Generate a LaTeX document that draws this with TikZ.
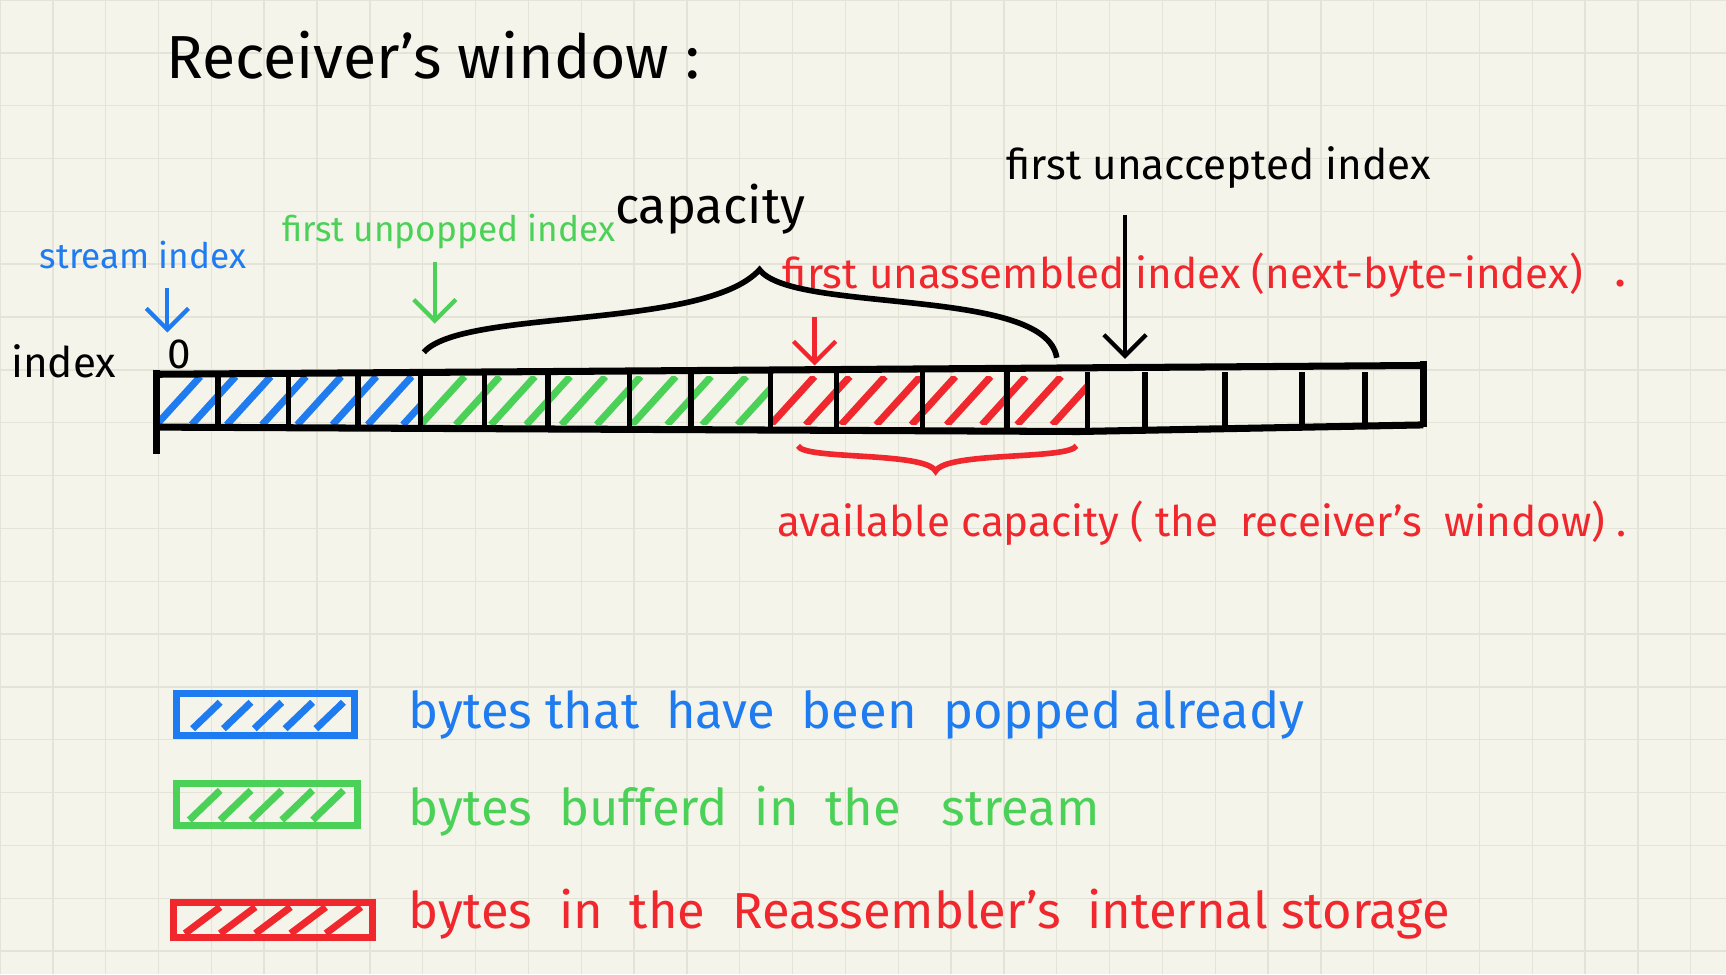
\documentclass[tikz,border=0pt]{standalone}
\usepackage{fontspec}
\setmainfont{Fira Sans}
\usetikzlibrary{arrows.meta,positioning,decorations.pathreplacing}
\definecolor{paper}{HTML}{F5F4EA}
\definecolor{gridc}{HTML}{E3E3D8}
\definecolor{hblue}{HTML}{1F7BF0}
\definecolor{hgreen}{HTML}{4CD158}
\definecolor{hred}{HTML}{F0282E}
\tikzset{
  lbl/.style={font=\large},
  pointer/.style={-{Straight Barb[length=6pt]},line width=1.2pt},
  barline/.style={line width=2pt},
  hatch/.style={line width=2pt}
}
\begin{document}
\begin{tikzpicture}[x=0.011cm,y=-0.011cm]
\useasboundingbox (0,0) rectangle (1568,885);
\fill[paper] (0,0) rectangle (1568,885);
\foreach \gx in {0,48,...,1568} \draw[gridc,line width=0.4pt] (\gx,0) -- (\gx,885);
\foreach \gy in {0,48,...,885} \draw[gridc,line width=0.4pt] (0,\gy) -- (1568,\gy);

% labels
\node (title) at (140,50) [anchor=west,font=\LARGE] {Receiver's window :};
\node (streamidx) at (25,232) [anchor=west,font=\normalsize,text=hblue] {stream index};
\node (indexlbl) at (58,328) [lbl] {index};
\node (zero) at (163,322) [lbl] {0};
\node (unpopped) at (245,210) [anchor=west,font=\normalsize,text=hgreen] {first unpopped index};
\node (cap) at (645,190) [font=\Large] {capacity};
\node (unassembled) at (700,250) [anchor=west,font=\large,text=hred] {first unassembled index (next-byte-index)};
\node (dot) at (1472,258) [font=\Large,text=hred] {.};
\node (unaccepted) at (1107,152) [lbl] {first unaccepted index};
\node (avail) at (695,475) [anchor=west,font=\large,text=hred] {available capacity ( the \ receiver's \ window) .};

% pointer targets
\coordinate (streamtip) at (152,302);
\coordinate (poptip) at (395,294);
\coordinate (asmtip) at (740,332);
\coordinate (acctip) at (1022,326);
\draw[pointer,hblue] (152,262) -- (streamtip);
\draw[pointer,hgreen] (395,238) -- (poptip);
\draw[pointer,hred] (740,288) -- (asmtip);
\draw[pointer] (1022,195) -- (acctip);

% hatching
\foreach \lo/\hi/\col in {142/382/hblue,382/700/hgreen,700/988/hred}{
  \begin{scope}
    \clip (\lo,342) rectangle (\hi,386);
    \foreach \hx in {\lo,...,\hi}{
      \pgfmathparse{mod(\hx-\lo,32)==0}
      \ifnum\pgfmathresult=1 \draw[hatch,\col] (\hx,386) -- (\hx+40,342);\fi
    }
  \end{scope}
}
% bar
\draw[barline] (142,340) -- (1293,332);
\draw[barline] (142,388) -- (980,392) -- (1293,386);
\draw[barline] (142,336) -- (142,412);
\draw[barline] (1293,328) -- (1293,388);
\foreach \cx in {198,262,325,382,440,498,572,628,700,760,838,915,988,1040,1113,1183,1240}
  \draw[line width=1.6pt] (\cx,338) -- (\cx,390);

% braces
\draw[line width=1.6pt] (385,320) .. controls (420,280) and (640,300) .. (690,245)
  .. controls (720,285) and (950,260) .. (960,325);
\draw[hred,line width=1.6pt] (725,405) .. controls (730,418) and (840,410) .. (850,428)
  .. controls (860,410) and (970,418) .. (978,405);

% legend
\draw[hblue,line width=2pt] (160,630) rectangle (322,668);
\draw[hgreen,line width=2pt] (160,712) rectangle (325,750);
\draw[hred,line width=2pt] (158,820) rectangle (338,852);
\foreach \k in {0,1,2,3,4}{
  \draw[hblue,hatch] (175+\k*28,662) -- (200+\k*28,638);
  \draw[hgreen,hatch] (172+\k*28,745) -- (200+\k*28,718);
  \draw[hred,hatch] (168+\k*32,848) -- (200+\k*32,824);
}
\node (popped) at (360,649) [anchor=west,font=\Large,text=hblue] {bytes that \ have \ been \ popped already};
\node (buffered) at (360,737) [anchor=west,font=\Large,text=hgreen] {bytes \ bufferd \ in \ the \ \ stream};
\node (reasm) at (360,830) [anchor=west,font=\Large,text=hred] {bytes \ in \ the \ Reassembler's \ internal storage};
\end{tikzpicture}
\end{document}
